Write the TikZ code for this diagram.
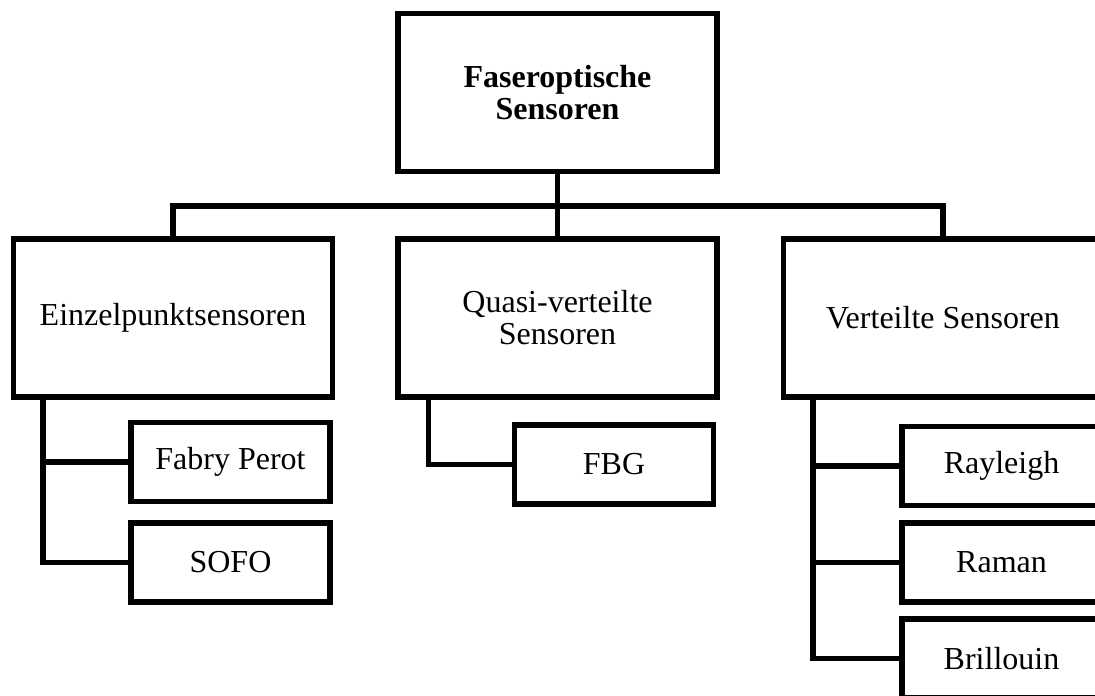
\documentclass[tikz,border=0pt]{standalone}
\usepackage{fontspec}
\setmainfont{Liberation Serif}
\begin{document}
\begin{tikzpicture}[x=0.5pt, y=-0.5pt,
    kasten/.style={draw, line width=2.6pt, align=center, inner sep=0pt,
        font=\fontsize{16pt}{16pt}\selectfont},
    gross/.style={kasten, minimum width=159.5pt, minimum height=79pt},
    klein/.style={kasten, minimum width=99.5pt, minimum height=39.5pt},
    linie/.style={line width=2.6pt}]

% Rahmen 1095 x 695, rechter Rand schneidet die Kaesten ab
\useasboundingbox (0,0) rectangle (1095,695);
\clip (0,0) rectangle (1095,695);

% ================================================================
%  Oberste Ebene
% ================================================================
\node[gross, font=\fontsize{16pt}{16pt}\selectfont\bfseries] (faser)
    at (557.5, 92.5) {Faseroptische\\Sensoren};

% Zweite Ebene
\node[gross] (einzel)   at (173, 318)   {Einzelpunktsensoren};
\node[gross] (quasi)    at (557.5, 318) {Quasi-verteilte\\Sensoren};
\node[gross] (verteilt) at (943, 318)   {Verteilte Sensoren};

% Dritte Ebene
\node[klein] (fabry)     at (230.5, 462)  {Fabry Perot};
\node[klein] (sofo)      at (230.5, 562.5) {SOFO};
\node[klein] (fbg)       at (614, 464.5)  {FBG};
\node[klein] (rayleigh)  at (1001.5, 466) {Rayleigh};
\node[klein] (raman)     at (1001.5, 562.5) {Raman};
\node[klein] (brillouin) at (1001.5, 658.5) {Brillouin};

% Verbindungen
\coordinate (knoten) at (557.5, 206);
\draw[linie] (faser) -- (quasi);
\draw[linie] (einzel.north) |- (knoten) -| (verteilt.north);

\draw[linie] ([xshift=16pt]einzel.south west) |- (fabry.west);
\draw[linie] ([xshift=16pt]einzel.south west) |- (sofo.west);
\draw[linie] ([xshift=16.5pt]quasi.south west) |- (fbg.west);
\draw[linie] ([xshift=16pt]verteilt.south west) |- (rayleigh.west);
\draw[linie] ([xshift=16pt]verteilt.south west) |- (raman.west);
\draw[linie] ([xshift=16pt]verteilt.south west) |- (brillouin.west);

\end{tikzpicture}
\end{document}
